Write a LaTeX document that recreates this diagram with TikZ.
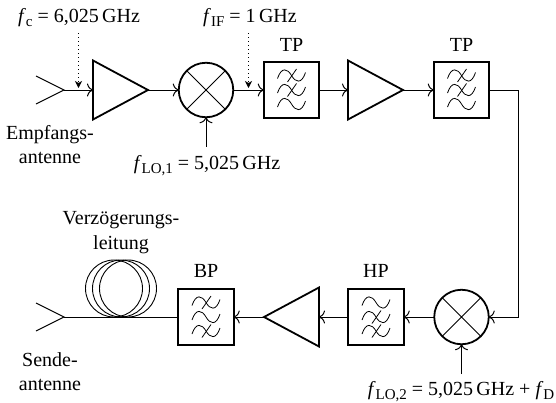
\documentclass[tikz,border=0pt]{standalone}
\usepackage{fontspec}
\setmainfont{Liberation Serif}
\usetikzlibrary{shapes.geometric,arrows.meta}
\newcommand{\subt}[1]{\raisebox{-0.22em}{\fontsize{15}{15}\selectfont #1}}
\newcommand{\fq}{\textit{f}}
\newcommand{\wave}[3]{%
  \draw[wave,shift={(#1.center)},yshift=#2pt] (-14,3) .. controls (-10,-9) and (-4,-7) .. (0,0) .. controls (4,7) and (10,9) .. (14,-3);
  \ifnum#3=1 \draw[wave,shift={(#1.center)},yshift=#2pt] (-4,6.5) -- (5,-6.5);\fi}
\newcommand{\filt}[4]{%
  \wave{#1}{14.5}{#2}\wave{#1}{0}{#3}\wave{#1}{-14}{#4}}
\newcommand{\mixmarks}[1]{%
  \draw[thin line] (#1.45) -- (#1.225) (#1.135) -- (#1.315);}
\newcommand{\antmarks}[1]{%
  \draw[ant line] ([shift={(-28,-14)}]#1) -- (#1) -- ([shift={(-28,14)}]#1);}
\tikzset{
  x=1pt,y=-1pt,
  thin line/.style={line width=1pt},
  ant line/.style={line width=1pt},
  wave/.style={line width=0.8pt},
  box/.style={draw,line width=1.8pt,minimum size=55.5pt,inner sep=0,outer sep=0},
  mixer/.style={draw,circle,line width=1.8pt,minimum size=54.5pt,inner sep=0,outer sep=0},
  amp/.style={draw,isosceles triangle,isosceles triangle stretches,shape border rotate=0,
    line width=1.8pt,minimum width=#1,minimum height=55pt,inner sep=0,outer sep=0,anchor=lower side},
  amp/.default=59pt,
  sig/.style={line width=1pt,-{Computer Modern Rightarrow[length=6pt,width=13pt]}},
  plain/.style={line width=1pt},
  dots/.style={line width=1pt,dash pattern=on 1pt off 3pt,-{Stealth[length=7pt,width=7pt,inset=2pt]}},
  lab/.style={anchor=base,inner sep=0,font=\fontsize{20}{20}\selectfont},
  loop/.style={draw,ellipse,line width=0.9pt,minimum width=57pt,minimum height=57pt,inner sep=0,outer sep=0},
}
\begin{document}
\begin{tikzpicture}
\useasboundingbox (0,0) rectangle (556,402);
\fill[white] (0,0) rectangle (556,402);
% upper chain
\coordinate (ant1) at (64,90);
\node[amp] (a1) at (93,90) {};
\node[mixer] (m1) at (206,90) {};
\node[box] (f1) at (291.5,90) {};
\node[amp] (a2) at (348,90) {};
\node[box] (f2) at (461.5,90) {};
% lower chain
\coordinate (corner1) at (518,90);
\coordinate (corner2) at (518,317);
\node[mixer] (m2) at (461.5,317) {};
\node[box] (f3) at (376,317) {};
\node[amp,shape border rotate=180] (a3) at (319,317) {};
\node[box] (f4) at (206,317) {};
\coordinate (ant2) at (64,317);
% fibre
\node[loop] (l1) at (114,288.5) {};
\node[loop] (l2) at (121,288.5) {};
\node[loop] (l3) at (128,288.5) {};
% symbols
\antmarks{ant1}
\antmarks{ant2}
\mixmarks{m1}
\mixmarks{m2}
\filt{f1}{1}{1}{0}
\filt{f2}{1}{1}{0}
\filt{f3}{0}{1}{1}
\filt{f4}{1}{0}{1}
% connectors
\draw[sig] (ant1) -- (a1.lower side);
\draw[sig] (a1.apex) -- (m1.west);
\draw[sig] (m1.east) -- (f1.west);
\draw[sig] (f1.east) -- (a2.lower side);
\draw[sig] (a2.apex) -- (f2.west);
\draw[sig] (f2.east) -- (corner1) -- (corner2) -- (m2.east);
\draw[sig] (m2.west) -- (f3.east);
\draw[sig] (f3.west) -- (a3.lower side);
\draw[sig] (a3.apex) -- (f4.east);
\draw[plain] (f4.west) -- (ant2);
% labels
\node[lab] (fc) at (79,22) {\fq\subt{c} = 6,025\,GHz};
\node[lab] (fif) at (250,22) {\fq\subt{IF} = 1\,GHz};
\node[lab] (tp1) at (291.5,51) {TP};
\node[lab] (tp2) at (461.5,51) {TP};
\node[lab] (e1) at (50,139) {Empfangs-};
\node[lab] (e2) at (50,163) {antenne};
\node[lab] (lo1) at (207,169) {\fq\subt{LO,1} = 5,025\,GHz};
\node[lab] (v1) at (121,224) {Verzögerungs-};
\node[lab] (v2) at (121,249) {leitung};
\node[lab] (bp) at (206,277) {BP};
\node[lab] (hp) at (376,277) {HP};
\node[lab] (s1) at (50,366) {Sende-};
\node[lab] (s2) at (50,390) {antenne};
\node[lab] (lo2) at (461,395) {\fq\subt{LO,2} = 5,025\,GHz + \fq\subt{D}};
% pointers
\coordinate (d1) at (78.5,33);
\coordinate (d1e) at (78.5,88);
\coordinate (d2) at (248.5,33);
\coordinate (d2e) at (248.5,88);
\coordinate (p1) at (206,146.5);
\coordinate (p2) at (461.5,374);
\draw[dots] (d1) -- (d1e);
\draw[dots] (d2) -- (d2e);
\draw[sig] (p1) -- (m1.south);
\draw[sig] (p2) -- (m2.south);
\end{tikzpicture}
\end{document}
